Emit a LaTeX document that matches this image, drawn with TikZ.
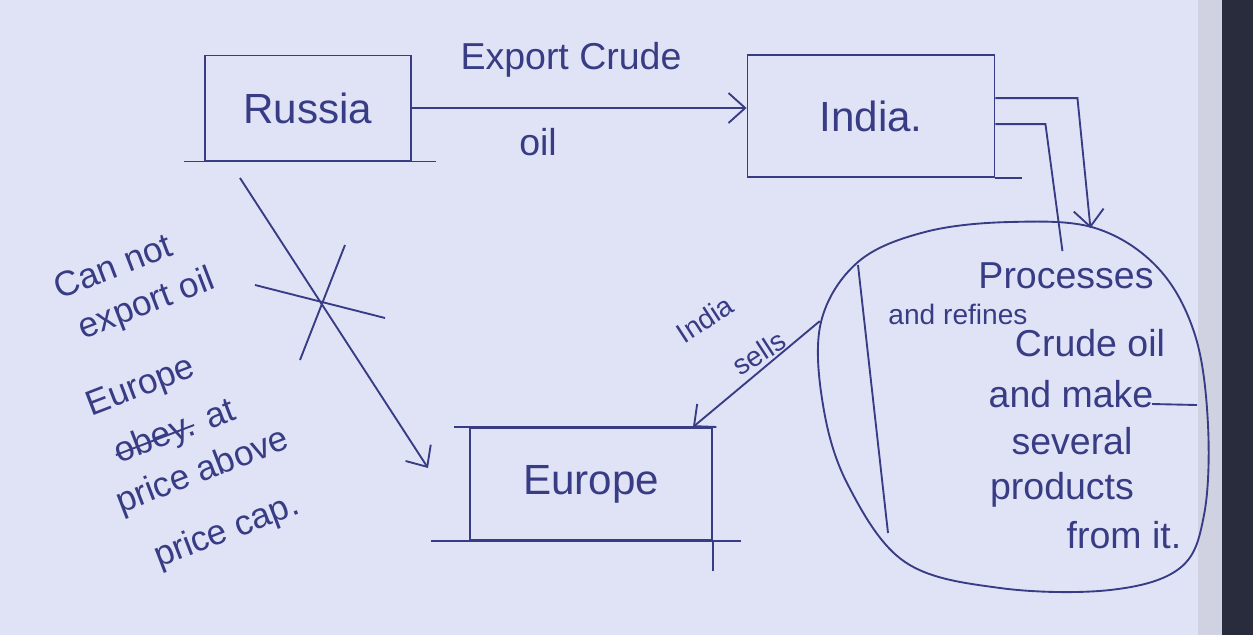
\documentclass[tikz,border=0pt]{standalone}
\usepackage{fontspec}
\setmainfont{Liberation Sans}
\usetikzlibrary{shapes.geometric,arrows.meta}
\definecolor{paper}{RGB}{224,227,246}
\definecolor{ink}{RGB}{56,60,132}
\definecolor{spine}{RGB}{40,44,60}
\definecolor{edge}{RGB}{208,210,226}
\tikzset{
  pen/.style={draw=ink, line width=1.6pt},
  box/.style={pen, rectangle, inner sep=0pt, text=ink, font=\fontsize{36}{40}\selectfont},
  hand/.style={text=ink, inner sep=0pt, font=\fontsize{32}{36}\selectfont},
  slope/.style={hand, rotate=21, font=\fontsize{30}{34}\selectfont},
  small/.style={text=ink, inner sep=0pt, font=\fontsize{24}{26}\selectfont},
  arr/.style={pen, -{Straight Barb[length=5mm,width=9mm]}},
}
\begin{document}
\begin{tikzpicture}[x=0.03cm, y=-0.03cm]
\fill[paper] (0,0) rectangle (1253,635);
\fill[edge] (1198,0) rectangle (1222,635);
\fill[spine] (1222,0) rectangle (1253,635);
\useasboundingbox (0,0) rectangle (1253,635);
% boxes
\node[box, minimum width=6.2cm, minimum height=3.15cm] (rus) at (308,108){Russia};
\node[box, minimum width=7.41cm, minimum height=3.66cm] (ind) at (871,116){India.};
\node[box, minimum width=7.26cm, minimum height=3.36cm] (eur) at (591,484){Europe};
\node[rectangle, minimum width=11.7cm, minimum height=11.04cm] (proc) at (1015,404){};
\draw[pen] plot[smooth cycle, tension=0.6] coordinates {(821,322) (858,262) (925,232) (1010,222) (1095,228)
  (1158,268) (1195,335) (1208,425) (1204,515) (1180,568) (1110,590) (1000,588) (905,562) (848,485) (823,405)};
\draw[pen] ([xshift=-0.6cm]rus.south west) -- ([xshift=0.7cm]rus.south east);
\draw[pen] (ind.south east) -- ([xshift=0.8cm]ind.south east);
\draw[pen] ([xshift=-0.45cm]eur.north west) -- ([xshift=0.1cm]eur.north east);
\draw[pen] ([xshift=-1.14cm]eur.south west) -- ([xshift=0.84cm]eur.south east);
\draw[pen] (eur.south east) -- ([yshift=-0.9cm]eur.south east);
% russia to india
\node[hand] (exp) at (571,60){Export Crude};
\node[hand] (oil) at (538,142){oil};
\draw[arr] (rus.east) -- (rus.east -| ind.west);
% india to refinery
\draw[arr] ([yshift=-1.32cm]ind.north east) -- ++(82,0) -- ++(13,130);
\draw[pen] ([yshift=-2.1cm]ind.north east) -- ++(50,0) -- ++(17,127);
% refinery text
\node[hand] (p0) at (1066,276){Processes};
\node[small] (p1) at (958,314){and refines};
\node[hand] (p2) at (1090,343){Crude oil};
\node[hand] (p3) at (1071,394){and make};
\node[hand] (p4) at (1072,441){several};
\node[hand] (p5) at (1062,490){products};
\node[hand] (p6) at (1124,535){from it.};
\draw[pen] (858,265) -- (888,533);
\draw[pen] (1152,404) -- (1197,405);
% india sells to europe
\draw[arr] (proc.157) -- ([xshift=-0.6cm]eur.north east);
\node[small, rotate=33] (sel0) at (705,319){India};
\node[small, rotate=33] (sel1) at (759,353){sells};
% russia to europe, crossed out
\coordinate (c0) at (240,178);
\coordinate (c1) at (428,468);
\draw[arr] (c0) -- (c1);
\draw[pen] (255,285) -- (385,318);
\draw[pen] (345,245) -- (300,360);
\node[slope] (t0) at (113,266){Can not};
\node[slope] (t1) at (147,305){export oil};
\node[slope] (t2) at (141,388){Europe};
\node[slope] (t3) at (155,440){obey.};
\node[slope] (t4) at (220,414){at};
\draw[pen] (t3.west) -- (t3.east);
\node[slope] (t5) at (203,472){price above};
\node[slope] (t6) at (227,532){price cap.};
\end{tikzpicture}
\end{document}
